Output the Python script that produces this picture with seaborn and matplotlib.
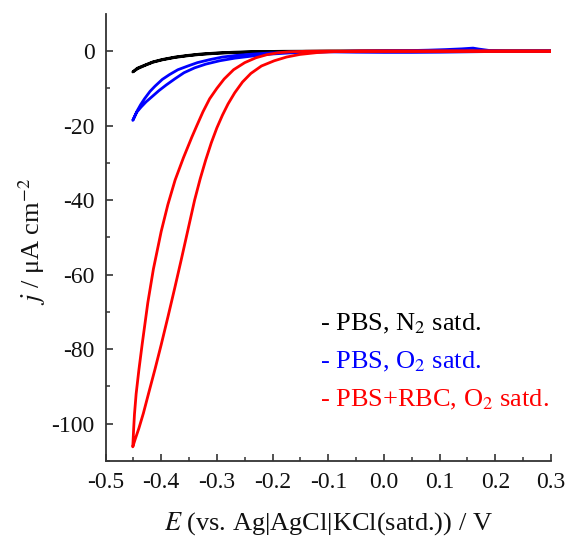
import numpy as np
import pandas as pd
import matplotlib
matplotlib.use("Agg")
import matplotlib.pyplot as plt
import seaborn as sns

# ---- data ----
# Black: PBS, N2 satd. (cathodic sweep, then return sweep)
n2_E = [0.30, 0.10, 0.00, -0.10, -0.18, -0.235, -0.27, -0.30, -0.33, -0.352, -0.375, -0.398, -0.415, -0.43, -0.442, -0.451,
        -0.443, -0.43, -0.415, -0.398, -0.375, -0.352, -0.33, -0.30, -0.27, -0.235, -0.18, -0.10, 0.00, 0.10, 0.30]
n2_j = [0.0, 0.0, 0.0, -0.05, -0.1, -0.25, -0.4, -0.6, -0.9, -1.25, -1.7, -2.35, -3.0, -3.9, -4.7, -5.6,
        -4.6, -3.8, -2.9, -2.25, -1.6, -1.15, -0.8, -0.5, -0.3, -0.15, -0.05, 0.0, 0.0, 0.0, 0.0]

# Blue: PBS, O2 satd.
o2_E = [0.30, 0.20, 0.10, 0.05, 0.00, -0.05, -0.10, -0.138, -0.17, -0.203, -0.235, -0.268, -0.29, -0.313, -0.335, -0.352,
        -0.37, -0.385, -0.398, -0.411, -0.42, -0.43, -0.437, -0.443, -0.451,
        -0.444, -0.436, -0.427, -0.417, -0.404, -0.391, -0.375, -0.359, -0.34, -0.32, -0.295, -0.268, -0.235,
        -0.203, -0.17, -0.138, -0.10, -0.05, 0.00, 0.05, 0.08, 0.11, 0.14, 0.16, 0.17, 0.19, 0.22, 0.30]
o2_j = [0.0, -0.1, -0.3, -0.35, -0.35, -0.3, -0.2, -0.2, -0.3, -0.5, -0.8, -1.2, -1.6, -2.3, -3.1, -4.0,
        -5.0, -6.3, -7.6, -9.4, -10.8, -12.8, -14.4, -16.0, -18.6,
        -16.4, -15.0, -13.6, -12.3, -10.6, -9.1, -7.4, -5.8, -4.5, -3.5, -2.6, -1.9, -1.3,
        -0.8, -0.5, -0.3, -0.15, 0.0, 0.1, 0.15, 0.25, 0.4, 0.6, 0.8, 0.55, 0.15, 0.05, 0.0]

# Red: PBS+RBC, O2 satd.
rbc_E = [0.30, 0.10, 0.00, -0.10, -0.14, -0.17, -0.19, -0.21, -0.23, -0.25, -0.27, -0.287, -0.30, -0.313,
         -0.325, -0.336, -0.345, -0.36, -0.375, -0.388, -0.40, -0.414, -0.424, -0.434, -0.44, -0.445,
         -0.448, -0.4495, -0.451,
         -0.447, -0.440, -0.432, -0.422, -0.411, -0.400, -0.388, -0.376, -0.364, -0.352, -0.340,
         -0.330, -0.320, -0.310, -0.300, -0.290, -0.280, -0.268, -0.254, -0.239, -0.220, -0.197,
         -0.175, -0.151, -0.120, -0.090, -0.04, 0.10, 0.30]
rbc_j = [0.0, 0.0, 0.0, 0.0, -0.05, -0.2, -0.45, -0.95, -1.8, -3.1, -5.0, -7.5, -10.0, -12.8,
         -16.3, -20.0, -23.1, -28.6, -34.6, -41.2, -48.4, -58.5, -67.5, -78.5, -85.5, -92.0,
         -97.5, -101.5, -106.2,
         -104.3, -101.2, -97.2, -91.5, -85.3, -78.8, -71.4, -63.8, -56.0, -48.0, -40.0,
         -34.3, -29.2, -24.6, -20.6, -17.2, -14.2, -11.2, -8.3, -6.0, -4.0, -2.6,
         -1.6, -0.9, -0.4, -0.15, 0.0, 0.0, 0.0]

labels = ["- PBS, N$_2$ satd.", "- PBS, O$_2$ satd.", "- PBS+RBC, O$_2$ satd."]
colors = ["#000000", "#0000FF", "#FF0000"]

x_ticks = [-0.5, -0.4, -0.3, -0.2, -0.1, 0.0, 0.1, 0.2, 0.3]
y_ticks = [0, -20, -40, -60, -80, -100]

# ---- plot ----
sns.set_theme(style="ticks")
plt.rcParams["font.family"] = ["Liberation Serif", "DejaVu Serif"]
plt.rcParams["mathtext.fontset"] = "stix"

fig = plt.figure(figsize=(5.66, 5.40), dpi=100)
ax = fig.add_axes([0.1864, 0.1463, 0.7871, 0.8281])

curves = [(n2_E, n2_j), (o2_E, o2_j), (rbc_E, rbc_j)]
for (E, j), c in zip(curves, colors):
    df = pd.DataFrame({"E": E, "j": j})
    sns.lineplot(data=df, x="E", y="j", sort=False, estimator=None,
                 color=c, linewidth=2.0, ax=ax)

ax.set_xlim(-0.5, 0.3)
ax.set_ylim(-110, 10)
ax.set_xticks(x_ticks)
ax.set_xticklabels([f"{v:.1f}" for v in x_ticks])
ax.set_yticks(y_ticks)
ax.set_yticklabels([str(v) for v in y_ticks])
ax.set_xticks(np.arange(-0.45, 0.3, 0.1), minor=True)
ax.set_yticks(np.arange(-110, 10, 20), minor=True)

for s in ["top", "right"]:
    ax.spines[s].set_visible(False)
for s in ["left", "bottom"]:
    ax.spines[s].set_color("#333333")
    ax.spines[s].set_linewidth(1.3)

ax.tick_params(axis="both", which="major", direction="in", length=5, width=1.2,
               color="#333333", labelsize=17, pad=8, labelcolor="#111111")
ax.tick_params(axis="both", which="minor", direction="in", length=3, width=1.1,
               color="#333333")

ax.set_xlabel("$E$ (vs. Ag|AgCl|KCl(satd.)) / V", fontsize=19, color="#111111")
ax.set_ylabel("$j$ / μA cm$^{-2}$", fontsize=19, color="#111111")
ax.xaxis.set_label_coords(0.5, -0.110)
ax.yaxis.set_label_coords(-0.129, 0.49)

for i, (lab, c) in enumerate(zip(labels, colors)):
    ax.text(0.481, 0.306 - i * 0.085, lab, color=c, fontsize=19,
            transform=ax.transAxes, ha="left", va="center")

fig.savefig("out.png", dpi=100)
